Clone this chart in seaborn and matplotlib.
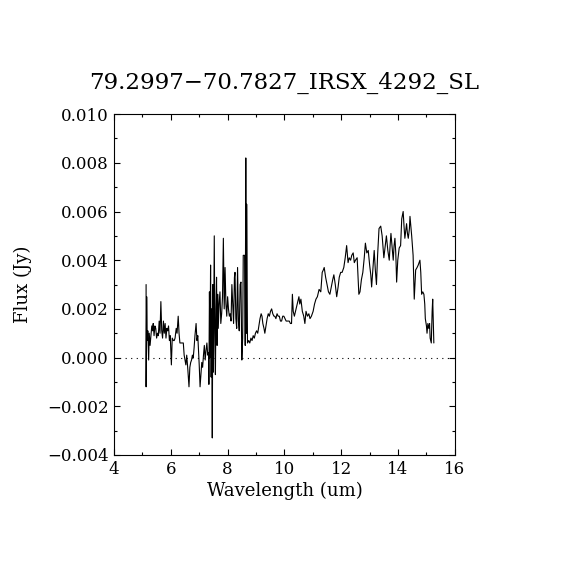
import matplotlib
matplotlib.use("Agg")
import matplotlib.pyplot as plt
import seaborn as sns
import pandas as pd
from matplotlib.ticker import MultipleLocator, FuncFormatter

title = "79.2997\u221270.7827_IRSX_4292_SL"
xlabel = "Wavelength (um)"
ylabel = "Flux (Jy)"

wavelength = [
    5.13, 5.13, 5.15, 5.17, 5.19, 5.22, 5.24, 5.27, 5.30, 5.33, 5.36, 5.38, 5.41, 5.44, 5.47,
    5.50, 5.53, 5.56, 5.59, 5.62, 5.65, 5.68, 5.71, 5.74, 5.77, 5.80, 5.83, 5.86, 5.89, 5.92,
    5.95, 5.98, 6.02, 6.05, 6.09, 6.12, 6.15, 6.19, 6.22, 6.26, 6.29, 6.32, 6.36, 6.40, 6.44,
    6.47, 6.50, 6.53, 6.56, 6.60, 6.64, 6.67, 6.70, 6.73, 6.76, 6.79, 6.82, 6.85, 6.89, 6.92,
    6.95, 6.97, 7.00, 7.03, 7.06, 7.09, 7.12, 7.15, 7.18, 7.21, 7.24, 7.27, 7.30, 7.33, 7.34,
    7.36, 7.38, 7.40, 7.42, 7.44, 7.46, 7.48, 7.50, 7.53, 7.55, 7.57, 7.59, 7.61, 7.63, 7.65,
    7.67, 7.70, 7.73, 7.76, 7.79, 7.82, 7.85, 7.88, 7.91, 7.94, 7.97, 8.00, 8.03, 8.06, 8.09,
    8.12, 8.15, 8.18, 8.21, 8.24, 8.26, 8.29, 8.32, 8.35, 8.38, 8.41, 8.44, 8.47, 8.50, 8.53,
    8.55, 8.60, 8.62, 8.64, 8.66, 8.67, 8.70, 8.74, 8.78, 8.82, 8.86, 8.90, 8.94, 8.98, 9.02,
    9.06, 9.10, 9.14, 9.18, 9.21, 9.24, 9.28, 9.31, 9.35, 9.39, 9.43, 9.47, 9.51, 9.55, 9.59,
    9.63, 9.66, 9.70, 9.74, 9.78, 9.82, 9.86, 9.90, 9.94, 9.98, 10.02, 10.06, 10.10, 10.13, 10.17,
    10.21, 10.25, 10.28, 10.31, 10.35, 10.39, 10.43, 10.47, 10.51, 10.54, 10.58, 10.63, 10.68, 10.72, 10.76,
    10.81, 10.86, 10.90, 10.95, 11.01, 11.06, 11.11, 11.16, 11.22, 11.28, 11.33, 11.37, 11.40, 11.45, 11.50,
    11.55, 11.60, 11.65, 11.70, 11.74, 11.79, 11.84, 11.89, 11.93, 11.98, 12.03, 12.09, 12.14, 12.19, 12.24,
    12.28, 12.33, 12.37, 12.42, 12.46, 12.50, 12.56, 12.62, 12.66, 12.71, 12.76, 12.81, 12.85, 12.90, 12.95,
    13.00, 13.04, 13.07, 13.12, 13.16, 13.20, 13.24, 13.28, 13.33, 13.39, 13.44, 13.50, 13.54, 13.59, 13.64,
    13.69, 13.72, 13.75, 13.80, 13.83, 13.86, 13.89, 13.92, 13.95, 13.99, 14.04, 14.09, 14.13, 14.18, 14.21,
    14.24, 14.27, 14.30, 14.33, 14.36, 14.40, 14.42, 14.45, 14.48, 14.53, 14.57, 14.62, 14.67, 14.71, 14.77,
    14.80, 14.83, 14.87, 14.91, 14.94, 14.96, 15.00, 15.02, 15.05, 15.08, 15.11, 15.13, 15.17, 15.20, 15.22,
    15.26,
]

flux = [
    0.0030, -0.0012, 0.0025, 0.0007, 0.0011, -0.0001, 0.0010, 0.0005, 0.0009, 0.0013, 0.0011, 0.0014, 0.0009, 0.0013, 0.0012,
    0.0008, 0.0010, 0.0009, 0.0015, 0.0010, 0.0023, 0.0011, 0.0008, 0.0015, 0.0010, 0.0014, 0.0008, 0.0012, 0.0011, 0.0013,
    0.0007, 0.0009, -0.0003, 0.0008, 0.0007, 0.0007, 0.0008, 0.0012, 0.0010, 0.0017, 0.0010, 0.0006, 0.0006, 0.0006, 0.0006,
    0.0001, -0.0001, -0.0003, 0.0001, -0.0005, -0.0012, -0.0004, -0.0002, -0.0001, 0.0001, 0.0000, 0.0004, 0.0009, 0.0014, 0.0007,
    0.0009, 0.0004, -0.0003, -0.0012, -0.0007, -0.0002, -0.0004, 0.0001, 0.0005, -0.0001, 0.0003, 0.0006, 0.0001, 0.0002, -0.0011,
    0.0027, 0.0000, 0.0038, -0.0008, 0.0020, -0.0033, 0.0030, -0.0006, 0.0050, 0.0010, -0.0007, 0.0020, 0.0033, 0.0005, 0.0026,
    0.0012, 0.0022, 0.0027, 0.0014, 0.0018, 0.0025, 0.0049, 0.0020, 0.0037, 0.0022, 0.0017, 0.0025, 0.0020, 0.0017, 0.0018,
    0.0015, 0.0030, 0.0022, 0.0014, 0.0033, 0.0035, 0.0016, 0.0012, 0.0037, 0.0015, 0.0011, 0.0030, 0.0031, -0.0001, 0.0008,
    0.0042, 0.0042, 0.0005, 0.0082, 0.0010, 0.0063, 0.0006, 0.0007, 0.0006, 0.0008, 0.0007, 0.0009, 0.0008, 0.0010, 0.0011,
    0.0010, 0.0013, 0.0016, 0.0018, 0.0017, 0.0014, 0.0012, 0.0010, 0.0013, 0.0016, 0.0018, 0.0017, 0.0019, 0.0020, 0.0018,
    0.0017, 0.0017, 0.0016, 0.0018, 0.0017, 0.0017, 0.0015, 0.0015, 0.0017, 0.0017, 0.0016, 0.0015, 0.0015, 0.0015, 0.0015,
    0.0014, 0.0014, 0.0026, 0.0019, 0.0017, 0.0019, 0.0021, 0.0023, 0.0025, 0.0022, 0.0024, 0.0019, 0.0017, 0.0014, 0.0019,
    0.0017, 0.0018, 0.0016, 0.0017, 0.0019, 0.0022, 0.0024, 0.0025, 0.0028, 0.0027, 0.0035, 0.0036, 0.0037, 0.0033, 0.0030,
    0.0027, 0.0026, 0.0029, 0.0032, 0.0034, 0.0030, 0.0025, 0.0029, 0.0033, 0.0035, 0.0035, 0.0037, 0.0041, 0.0046, 0.0039,
    0.0041, 0.0040, 0.0042, 0.0043, 0.0039, 0.0040, 0.0041, 0.0026, 0.0027, 0.0032, 0.0035, 0.0041, 0.0047, 0.0043, 0.0044,
    0.0038, 0.0034, 0.0029, 0.0037, 0.0044, 0.0036, 0.0030, 0.0042, 0.0053, 0.0054, 0.0050, 0.0041, 0.0045, 0.0050, 0.0044,
    0.0040, 0.0046, 0.0051, 0.0044, 0.0040, 0.0046, 0.0049, 0.0043, 0.0031, 0.0040, 0.0045, 0.0046, 0.0057, 0.0060, 0.0054,
    0.0049, 0.0052, 0.0055, 0.0051, 0.0049, 0.0053, 0.0058, 0.0054, 0.0050, 0.0042, 0.0024, 0.0036, 0.0037, 0.0038, 0.0040,
    0.0035, 0.0026, 0.0027, 0.0026, 0.0022, 0.0016, 0.0013, 0.0010, 0.0014, 0.0012, 0.0014, 0.0008, 0.0006, 0.0019, 0.0024,
    0.0006,
]

df = pd.DataFrame({"wl": wavelength, "flux": flux})

sns.set_theme(style="ticks")
plt.rcParams["font.family"] = ["DejaVu Serif", "DejaVu Sans"]
plt.rcParams["axes.unicode_minus"] = True

fig = plt.figure(figsize=(5.7, 5.7), dpi=100)
ax = fig.add_axes([0.2, 0.2018, 0.598, 0.598])

sns.lineplot(data=df, x="wl", y="flux", sort=False, estimator=None,
             color="black", linewidth=0.8, ax=ax)
ax.axhline(0, color="black", linewidth=0.8, linestyle=(0, (1, 4)))

ax.set_xlim(4, 16)
ax.set_ylim(-0.004, 0.010)
ax.xaxis.set_major_locator(MultipleLocator(2))
ax.xaxis.set_minor_locator(MultipleLocator(1))
ax.yaxis.set_major_locator(MultipleLocator(0.002))
ax.yaxis.set_minor_locator(MultipleLocator(0.001))
ax.xaxis.set_major_formatter(FuncFormatter(lambda v, p: f"{v:.0f}"))
ax.yaxis.set_major_formatter(FuncFormatter(lambda v, p: f"{v:.3f}".replace("-", "\u2212")))

ax.tick_params(which="both", direction="in", top=True, right=True,
               colors="black", labelsize=12, width=0.8)
ax.tick_params(which="major", length=4.3)
ax.tick_params(axis="x", which="major", pad=4)
ax.tick_params(axis="y", which="major", pad=4)
ax.tick_params(which="minor", length=2.2)
for s in ax.spines.values():
    s.set_color("black")
    s.set_linewidth(0.8)

ax.set_title(title, fontsize=16.5, pad=18, color="black")
ax.set_xlabel(xlabel, fontsize=13, color="black", labelpad=3)
ax.set_ylabel(ylabel, fontsize=13, color="black", labelpad=11)

fig.savefig("out.png", dpi=100, facecolor="white")
